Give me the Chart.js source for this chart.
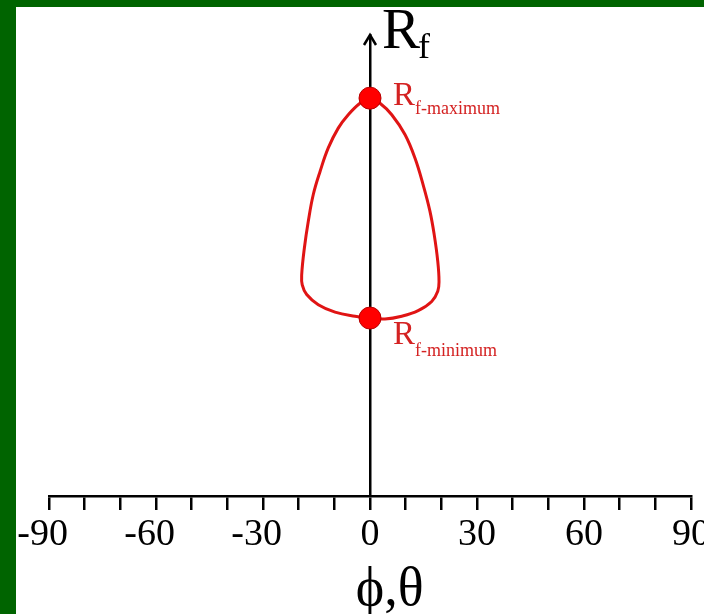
<!DOCTYPE html>
<html>
<head>
<meta charset="utf-8">
<script src="https://cdn.jsdelivr.net/npm/chart.js@4.4.1/dist/chart.umd.min.js"></script>
<style>
  html, body { margin: 0; padding: 0; overflow: hidden; background: #fff; }
  #wrap { position: relative; width: 704px; height: 614px; }
</style>
</head>
<body>
<div id="wrap"><canvas id="rfChart"></canvas></div>
<script>
// Rf loop, traced clockwise from the top: right flank down, bottom, left flank up
const loopPhi = [0, 2.8, 6.1, 9.8, 12.6, 14.9, 16.8, 18.0, 19.0, 19.35, 19.0, 17.3, 13.5, 8.9, 4.2, 0,
                 -4.2, -9.8, -14.5, -17.75, -19.0, -19.15, -18.4, -17.3, -15.9, -14.0, -11.7, -8.9, -6.1, -2.8, 0];
const loopRf = [8.63, 8.52, 8.27, 7.84, 7.33, 6.75, 6.18, 5.67, 5.09, 4.66, 4.44, 4.22, 4.02, 3.90, 3.84, 3.86,
                3.90, 3.99, 4.15, 4.37, 4.58, 4.80, 5.38, 5.96, 6.54, 7.04, 7.55, 7.98, 8.27, 8.52, 8.63];

// Extreme values of Rf (both at phi = 0)
const extremePhi = [0, 0];
const extremeRf = [8.63, 3.86];
const extremeNames = ['f-maximum', 'f-minimum'];

// X axis ticks: marks every 10 degrees, numbers every 30
const phiMin = -90;
const phiMax = 90;
const phiStep = 10;
const phiLabelEvery = 30;

const SERIF = "'Liberation Serif', 'Times New Roman', serif";
const TEXT_RED = '#d42222';

// green frame behind the white plot sheet
const framePlugin = {
  id: 'frame',
  beforeDraw(chart) {
    const c = chart.ctx;
    c.save();
    c.fillStyle = '#006400';
    c.fillRect(0, 0, chart.width, chart.height);
    c.fillStyle = '#ffffff';
    c.fillRect(16, 7, chart.width - 16, chart.height - 7);
    c.restore();
  }
};

// arrow head, axis titles and the Rf max/min labels
const labelPlugin = {
  id: 'labels',
  afterDraw(chart) {
    const c = chart.ctx;
    const xs = chart.scales.x;
    const ys = chart.scales.y;
    const x0 = xs.getPixelForValue(0);
    const top = chart.chartArea.top;
    c.save();

    // arrow on the Rf axis
    c.strokeStyle = '#000';
    c.lineWidth = 2.5;
    c.beginPath();
    c.moveTo(x0 - 6, top + 10);
    c.lineTo(x0, top);
    c.lineTo(x0 + 6, top + 10);
    c.stroke();

    // "Rf" axis title
    c.fillStyle = '#000';
    c.textBaseline = 'alphabetic';
    c.textAlign = 'left';
    c.font = '57px ' + SERIF;
    c.fillText('R', x0 + 12, top + 13);
    const rw = c.measureText('R').width;
    c.font = '36px ' + SERIF;
    c.fillText('f', x0 + 10 + rw, top + 23);

    // "phi,theta" title, phi stem on the zero line
    c.font = '54px ' + SERIF;
    const phiW = c.measureText('\u03D5').width;
    c.fillText('\u03D5,\u03B8', x0 - phiW / 2, 605);

    // labels next to the two extreme points
    c.fillStyle = TEXT_RED;
    extremeRf.forEach((v, i) => {
      const px = xs.getPixelForValue(extremePhi[i]) + 23;
      const py = ys.getPixelForValue(v) + (i === 0 ? 7 : 26);
      c.font = '33px ' + SERIF;
      c.fillText('R', px, py);
      const w = c.measureText('R').width;
      c.font = '18px ' + SERIF;
      c.fillText(extremeNames[i], px + w, py + (i === 0 ? 9 : 12));
    });
    c.restore();
  }
};

const ctx = document.getElementById('rfChart').getContext('2d');
const rfChart = new Chart(ctx, {
  type: 'scatter',
  data: {
    datasets: [
      {
        label: 'Rf extremes',
        data: extremePhi.map((p, i) => ({ x: p, y: extremeRf[i] })),
        pointRadius: 11,
        pointBackgroundColor: '#ff0000',
        pointBorderColor: '#b80000',
        pointBorderWidth: 1,
        showLine: false
      },
      {
        label: 'Rf',
        data: loopPhi.map((p, i) => ({ x: p, y: loopRf[i] })),
        showLine: true,
        borderColor: '#e01414',
        borderWidth: 3,
        pointRadius: 0,
        tension: 0.4,
        fill: false
      }
    ]
  },
  plugins: [framePlugin, labelPlugin],
  options: {
    responsive: true,
    maintainAspectRatio: false,
    devicePixelRatio: 1,
    animation: false,
    layout: { padding: { left: 49, right: 13, top: 35, bottom: 0 } },
    plugins: {
      legend: { display: false },
      tooltip: { enabled: false }
    },
    scales: {
      x: {
        type: 'linear',
        position: 'bottom',
        min: phiMin,
        max: phiMax,
        afterFit: (s) => { s.paddingLeft = 0; s.paddingRight = 0; s.height = 118; },
        border: { color: '#000', width: 2.5 },
        grid: { drawOnChartArea: false, drawTicks: true, tickLength: 14, color: '#000', lineWidth: 2.5 },
        ticks: {
          stepSize: phiStep,
          autoSkip: false,
          maxRotation: 0,
          padding: 6,
          color: '#000',
          font: { family: SERIF, size: 38, lineHeight: 1 },
          // negative numbers keep the digits centred on the tick
          callback: (v) => v % phiLabelEvery === 0 ? (v < 0 ? v + '\u2004' : String(v)) : ''
        }
      },
      y: {
        type: 'linear',
        position: { x: 0 },
        min: 0,
        max: 10,
        border: { color: '#000', width: 2.5 },
        grid: { drawOnChartArea: false, drawTicks: false },
        ticks: { display: false }
      }
    }
  }
});
</script>
</body>
</html>
